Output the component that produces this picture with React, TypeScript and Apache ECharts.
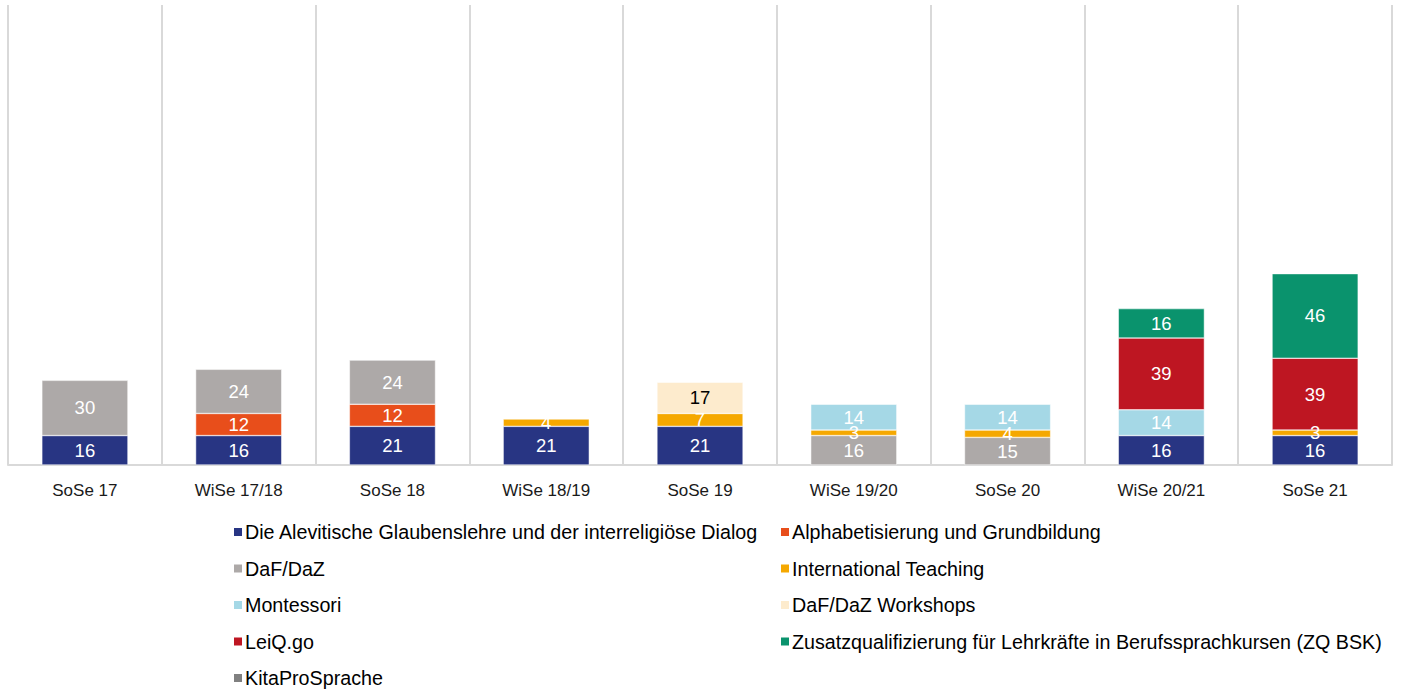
import React, { useEffect, useRef } from "react";
import * as echarts from "echarts";

const categories = ["SoSe 17", "WiSe 17/18", "SoSe 18", "WiSe 18/19", "SoSe 19", "WiSe 19/20", "SoSe 20", "WiSe 20/21", "SoSe 21"];

const alevitisch = [16, 16, 21, 21, 21, null, null, 16, 16];
const alphabetisierung = [null, 12, 12, null, null, null, null, null, null];
const dafDaz = [30, 24, 24, null, null, 16, 15, null, null];
const internationalTeaching = [null, null, null, 4, 7, 3, 4, null, 3];
const montessori = [null, null, null, null, null, 14, 14, 14, null];
const dafDazWorkshops = [null, null, null, null, 17, null, null, null, null];
const leiqGo = [null, null, null, null, null, null, null, 39, 39];
const zqBsk = [null, null, null, null, null, null, null, 16, 46];
const kitaProSprache = [null, null, null, null, null, null, null, null, null];

const seriesDefs = [
  { name: "Die Alevitische Glaubenslehre und der interreligiöse Dialog", data: alevitisch, color: "#283583", label: "#ffffff" },
  { name: "Alphabetisierung und Grundbildung", data: alphabetisierung, color: "#E84E1B", label: "#ffffff" },
  { name: "DaF/DaZ", data: dafDaz, color: "#ADA9A8", label: "#ffffff" },
  { name: "International Teaching", data: internationalTeaching, color: "#F5A800", label: "#ffffff" },
  { name: "Montessori", data: montessori, color: "#A5D8E6", label: "#ffffff" },
  { name: "DaF/DaZ Workshops", data: dafDazWorkshops, color: "#FDEBCD", label: "#000000" },
  { name: "LeiQ.go", data: leiqGo, color: "#BE1622", label: "#ffffff" },
  { name: "Zusatzqualifizierung für Lehrkräfte in Berufssprachkursen (ZQ BSK)", data: zqBsk, color: "#0A936D", label: "#ffffff" },
  { name: "KitaProSprache", data: kitaProSprache, color: "#808080", label: "#ffffff" },
];

const legendLeft = [0, 2, 4, 6, 8].map((i) => seriesDefs[i].name);
const legendRight = [1, 3, 5, 7].map((i) => seriesDefs[i].name);

export default function App() {
  const ref = useRef<HTMLDivElement>(null);
  useEffect(() => {
    document.body.style.margin = "0";
    const chart = echarts.init(ref.current!, null, { renderer: "svg" });
    const legendBase = {
      orient: "vertical" as const,
      top: 522,
      height: 200,
      padding: 0,
      itemWidth: 10,
      itemHeight: 10,
      itemGap: 16.5,
      icon: "rect",
      textStyle: {
        fontFamily: "Liberation Sans, Arial, sans-serif",
        fontSize: 19.7,
        color: "#000000",
        lineHeight: 20,
        padding: [0, 0, 0, -3],
      },
      selectedMode: false,
    };
    chart.setOption({
      animation: false,
      grid: { left: 8, right: 22, top: 5, bottom: 691 - 465, containLabel: false },
      legend: [
        { ...legendBase, left: 232, data: legendLeft },
        { ...legendBase, left: 779, data: legendRight },
      ],
      xAxis: {
        type: "category",
        data: categories,
        axisTick: { show: false },
        axisLine: { lineStyle: { color: "#D9D9D9", width: 2 } },
        splitLine: { show: true, lineStyle: { color: "#D9D9D9", width: 2 } },
        axisLabel: {
          margin: 17,
          fontSize: 17,
          color: "#1a1a1a",
          fontFamily: "Liberation Sans, Arial, sans-serif",
        },
      },
      yAxis: {
        type: "value",
        min: 0,
        max: 250,
        show: false,
        splitLine: { show: false },
      },
      series: seriesDefs.map((s) => ({
        name: s.name,
        type: "bar",
        stack: "total",
        data: s.data,
        barWidth: "56%",
        itemStyle: { color: s.color, borderColor: "#ffffff", borderWidth: 0.5 },
        label: {
          show: true,
          position: "inside",
          color: s.label,
          fontSize: 18.5,
          fontFamily: "Liberation Sans, Arial, sans-serif",
          formatter: (p: any) => (p.value == null || p.value === 0 ? "" : String(p.value)),
        },
      })),
    });
    return () => chart.dispose();
  }, []);
  return <div ref={ref} style={{ width: 1414, height: 691 }} />;
}
